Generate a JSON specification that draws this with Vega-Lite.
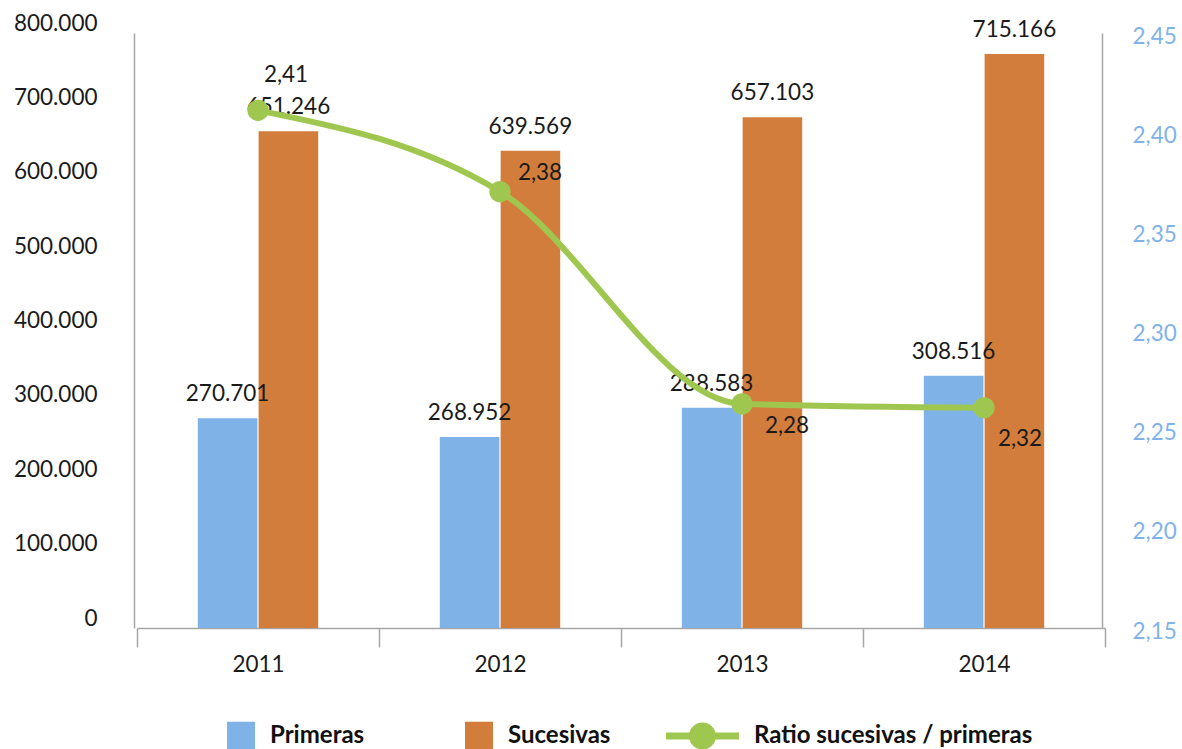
{
  "$schema": "https://vega.github.io/schema/vega-lite/v6.json",
  "width": 968,
  "height": 595,
  "autosize": {"type": "none"},
  "padding": {"left": 134, "top": 33, "right": 80, "bottom": 121},
  "background": "white",
  "config": {
    "view": {"stroke": null},
    "locale": {"number": {"decimal": ",", "thousands": ".", "grouping": [3], "currency": ["", " €"]}},
    "axis": {"labelFont": "Lato", "labelFontSize": 22.5, "labelColor": "#1a1a1a", "domainColor": "#a6a6a6", "domainWidth": 1.5, "tickColor": "#a6a6a6", "tickWidth": 1.5, "grid": false}
  },
  "datasets": {
    "barras": [
      {"anio": "2011", "serie": "Primeras", "valor": 282000, "etiqueta": "270.701"},
      {"anio": "2011", "serie": "Sucesivas", "valor": 668000, "etiqueta": "651.246"},
      {"anio": "2012", "serie": "Primeras", "valor": 256800, "etiqueta": "268.952"},
      {"anio": "2012", "serie": "Sucesivas", "valor": 641700, "etiqueta": "639.569"},
      {"anio": "2013", "serie": "Primeras", "valor": 296200, "etiqueta": "288.583"},
      {"anio": "2013", "serie": "Sucesivas", "valor": 686600, "etiqueta": "657.103"},
      {"anio": "2014", "serie": "Primeras", "valor": 339200, "etiqueta": "308.516"},
      {"anio": "2014", "serie": "Sucesivas", "valor": 771800, "etiqueta": "715.166"}
    ],
    "ratio": [
      {"anio": "2011", "ratio": 2.411, "etiqueta": "2,41"},
      {"anio": "2012", "ratio": 2.370, "etiqueta": "2,38"},
      {"anio": "2013", "ratio": 2.263, "etiqueta": "2,28"},
      {"anio": "2014", "ratio": 2.261, "etiqueta": "2,32"}
    ]
  },
  "layer": [
    {
      "data": {"name": "barras"},
      "layer": [
        {
          "mark": {"type": "bar"},
          "encoding": {
            "x": {"field": "anio", "type": "nominal", "title": null, "scale": {"paddingInner": 0, "paddingOuter": 0, "range": [3, 971]},
                  "axis": {"labelAngle": 0, "tickBand": "extent", "tickSize": 19, "labelPadding": 6, "title": null}},
            "xOffset": {"field": "serie", "type": "nominal", "scale": {"domain": ["Primeras", "Sucesivas"], "paddingInner": 0.02, "paddingOuter": 1.11}},
            "y": {"field": "valor", "type": "quantitative", "title": null, "scale": {"domain": [0, 800000], "nice": false},
                  "axis": {"values": [0, 100000, 200000, 300000, 400000, 500000, 600000, 700000, 800000], "format": ",d", "ticks": false, "labelPadding": 37, "labelOffset": -10, "title": null}},
            "color": {"field": "serie", "type": "nominal",
                      "scale": {"domain": ["Primeras", "Sucesivas", "Ratio sucesivas / primeras"], "range": ["#7fb3e8", "#d37d3c", "#9fc750"]},
                      "legend": {
                        "orient": "none", "legendX": 48, "legendY": 666, "direction": "horizontal", "title": null, "padding": 0,
                        "symbolSize": 5329, "symbolStrokeWidth": 0, "labelFont": "Lato", "labelFontSize": 24, "labelFontWeight": "bold",
                        "labelColor": "#111111", "labelOffset": 15, "columnPadding": 55, "labelLimit": 400,
                        "encode": {"symbols": {"update": {
                          "shape": {"signal": "datum.value === 'Ratio sucesivas / primeras' ? 'M-1,-0.096L1,-0.096L1,0.096L-1,0.096Z M0.37,0A0.37,0.37 0 1 1 -0.37,0A0.37,0.37 0 1 1 0.37,0Z' : 'M0.233,-0.384L1,-0.384L1,0.384L0.233,0.384Z'"},
                          "fill": {"scale": "color", "field": "value"},
                          "opacity": {"value": 1},
                          "strokeWidth": {"value": 0}
                        }}}
                      }}
          }
        },
        {
          "mark": {"type": "text", "dy": -24, "font": "Lato", "fontSize": 22.5, "color": "#1a1a1a"},
          "encoding": {
            "x": {"field": "anio", "type": "nominal", "title": null},
            "xOffset": {"field": "serie", "type": "nominal"},
            "y": {"field": "valor", "type": "quantitative", "title": null},
            "text": {"field": "etiqueta"}
          }
        }
      ]
    },
    {
      "data": {"name": "ratio"},
      "layer": [
        {
          "mark": {"type": "line", "interpolate": "monotone", "color": "#9fc750", "strokeWidth": 6},
          "encoding": {
            "x": {"field": "anio", "type": "nominal", "title": null},
            "y": {"field": "ratio", "type": "quantitative", "title": null, "scale": {"domain": [2.15, 2.45], "nice": false, "zero": false},
                  "axis": {"orient": "right", "values": [2.15, 2.2, 2.25, 2.3, 2.35, 2.4, 2.45], "format": ".2f", "ticks": false, "labelPadding": 30, "labelOffset": 3, "labelColor": "#7fb3e8", "title": null}}
          }
        },
        {
          "mark": {"type": "point", "filled": true, "size": 452, "color": "#9fc750", "opacity": 1},
          "encoding": {
            "x": {"field": "anio", "type": "nominal", "title": null},
            "y": {"field": "ratio", "type": "quantitative", "title": null}
          }
        },
        {
          "transform": [{"filter": "datum.anio === '2011'"}],
          "mark": {"type": "text", "dx": 28, "dy": -35, "font": "Lato", "fontSize": 22.5, "color": "#1a1a1a"},
          "encoding": {
            "x": {"field": "anio", "type": "nominal", "title": null},
            "y": {"field": "ratio", "type": "quantitative", "title": null},
            "text": {"field": "etiqueta"}
          }
        },
        {
          "transform": [{"filter": "datum.anio === '2012'"}],
          "mark": {"type": "text", "dx": 40, "dy": -19, "font": "Lato", "fontSize": 22.5, "color": "#1a1a1a"},
          "encoding": {
            "x": {"field": "anio", "type": "nominal", "title": null},
            "y": {"field": "ratio", "type": "quantitative", "title": null},
            "text": {"field": "etiqueta"}
          }
        },
        {
          "transform": [{"filter": "datum.anio === '2013'"}],
          "mark": {"type": "text", "dx": 45, "dy": 22, "font": "Lato", "fontSize": 22.5, "color": "#1a1a1a"},
          "encoding": {
            "x": {"field": "anio", "type": "nominal", "title": null},
            "y": {"field": "ratio", "type": "quantitative", "title": null},
            "text": {"field": "etiqueta"}
          }
        },
        {
          "transform": [{"filter": "datum.anio === '2014'"}],
          "mark": {"type": "text", "dx": 36, "dy": 31, "font": "Lato", "fontSize": 22.5, "color": "#1a1a1a"},
          "encoding": {
            "x": {"field": "anio", "type": "nominal", "title": null},
            "y": {"field": "ratio", "type": "quantitative", "title": null},
            "text": {"field": "etiqueta"}
          }
        }
      ]
    }
  ],
  "resolve": {"scale": {"y": "independent"}}
}
